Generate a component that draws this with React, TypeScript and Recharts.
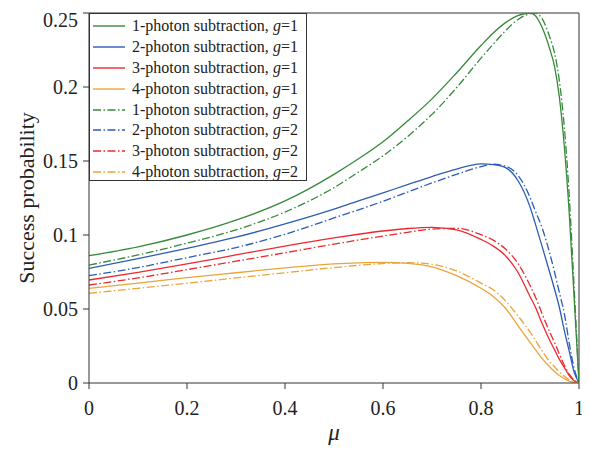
import React from 'react';
import { LineChart, Line, XAxis, YAxis, Legend, ReferenceLine } from 'recharts';

const muValues = [0, 0.1, 0.2, 0.3, 0.4, 0.5, 0.55, 0.6, 0.65, 0.7, 0.75, 0.8, 0.825, 0.85, 0.875, 0.9, 0.91, 0.925, 0.94, 0.95, 0.96, 0.97, 0.98, 0.99, 1];

const sub1g1 = [0.086, 0.092, 0.1, 0.11, 0.123, 0.141, 0.1515, 0.163, 0.177, 0.192, 0.2095, 0.228, 0.2365, 0.2435, 0.2482, 0.25, 0.2485, 0.24, 0.226, 0.214, 0.193, 0.16, 0.115, 0.058, 0];
const sub2g1 = [0.0775, 0.084, 0.091, 0.0985, 0.1075, 0.1175, 0.123, 0.1285, 0.134, 0.1395, 0.1445, 0.148, 0.1475, 0.1455, 0.137, 0.119, 0.1085, 0.092, 0.075, 0.0635, 0.051, 0.0355, 0.0215, 0.0075, 0];
const sub3g1 = [0.0696, 0.0748, 0.0805, 0.0865, 0.0925, 0.098, 0.1005, 0.1027, 0.1044, 0.1052, 0.1035, 0.097, 0.0925, 0.086, 0.075, 0.0585, 0.052, 0.04, 0.029, 0.0225, 0.016, 0.0105, 0.005, 0.0015, 0];
const sub4g1 = [0.064, 0.0675, 0.0712, 0.0745, 0.0778, 0.0805, 0.0812, 0.0815, 0.0808, 0.0785, 0.0725, 0.064, 0.0585, 0.0505, 0.039, 0.0275, 0.023, 0.0165, 0.011, 0.0078, 0.005, 0.0029, 0.0013, 0.0004, 0];
const sub1g2 = [0.0797, 0.0865, 0.0945, 0.1035, 0.1155, 0.132, 0.1425, 0.1535, 0.1665, 0.1815, 0.1995, 0.2195, 0.229, 0.238, 0.2455, 0.2495, 0.25, 0.246, 0.234, 0.223, 0.204, 0.173, 0.127, 0.065, 0];
const sub2g2 = [0.0725, 0.078, 0.0847, 0.0915, 0.1005, 0.1115, 0.117, 0.1228, 0.129, 0.1352, 0.141, 0.1462, 0.1478, 0.1465, 0.1405, 0.1255, 0.117, 0.1045, 0.088, 0.075, 0.061, 0.047, 0.027, 0.01, 0];
const sub3g2 = [0.0662, 0.071, 0.0766, 0.0823, 0.088, 0.0938, 0.0966, 0.0993, 0.1018, 0.104, 0.1045, 0.1002, 0.0965, 0.0905, 0.081, 0.066, 0.059, 0.0465, 0.0345, 0.0275, 0.0195, 0.012, 0.006, 0.002, 0];
const sub4g2 = [0.0606, 0.064, 0.0674, 0.071, 0.0745, 0.078, 0.0795, 0.0807, 0.0813, 0.0802, 0.0758, 0.0675, 0.063, 0.0555, 0.0455, 0.0345, 0.0295, 0.0215, 0.0145, 0.011, 0.0075, 0.0045, 0.0022, 0.0007, 0];

const xTicks = [0, 0.2, 0.4, 0.6, 0.8, 1];
const yTicks = [0, 0.05, 0.1, 0.15, 0.2, 0.25];

const seriesDefs = [
  { key: 's1g1', values: sub1g1, n: 1, g: 1, color: '#37893b', dashed: false },
  { key: 's2g1', values: sub2g1, n: 2, g: 1, color: '#2b5db5', dashed: false },
  { key: 's3g1', values: sub3g1, n: 3, g: 1, color: '#ea2a30', dashed: false },
  { key: 's4g1', values: sub4g1, n: 4, g: 1, color: '#eaa53a', dashed: false },
  { key: 's1g2', values: sub1g2, n: 1, g: 2, color: '#37893b', dashed: true },
  { key: 's2g2', values: sub2g2, n: 2, g: 2, color: '#2b5db5', dashed: true },
  { key: 's3g2', values: sub3g2, n: 3, g: 2, color: '#ea2a30', dashed: true },
  { key: 's4g2', values: sub4g2, n: 4, g: 2, color: '#eaa53a', dashed: true },
];

const data = muValues.map((mu, i) => {
  const row: any = { mu };
  seriesDefs.forEach((s) => { row[s.key] = s.values[i]; });
  return row;
});

const FONT = "'Liberation Serif', 'Times New Roman', Times, Tinos, 'Noto Serif', 'DejaVu Serif', FreeSerif, 'Noto Serif CJK SC', 'Noto Serif CJK JP', serif";
const DASH = '8 2.5 1.5 2.5';

const LegendBox = () => (
  <div style={{ width: 218, height: 168, border: '1px solid #333', background: '#fff', boxSizing: 'border-box', paddingTop: 2, fontFamily: FONT, fontSize: 16, color: '#222' }}>
    {seriesDefs.map((s) => (
      <div key={s.key} style={{ height: 20.8, display: 'flex', alignItems: 'center', whiteSpace: 'nowrap' }}>
        <svg width={42} height={10} style={{ flex: 'none' }}>
          <line x1={3} y1={5} x2={35} y2={5} stroke={s.color} strokeWidth={1.4} strokeDasharray={s.dashed ? DASH : undefined} />
        </svg>
        <span>{s.n}-photon subtraction, <span style={{ fontStyle: 'italic' }}>g</span>={s.g}</span>
      </div>
    ))}
  </div>
);

export default function App() {
  return (
    <div style={{ fontFamily: FONT }}>
      <LineChart width={582} height={442} data={data} margin={{ top: 5, right: 11, bottom: 0, left: 0 }} style={{ fontFamily: FONT }}>
        <XAxis
          dataKey="mu"
          type="number"
          domain={[0, 1]}
          ticks={xTicks}
          allowDataOverflow
          height={67}
          tickSize={6}
          tickMargin={12}
          stroke="#333"
          tick={{ fontFamily: FONT, fontSize: 20, fill: '#222' }}
          label={{
            content: () => (
              <text x={326} y={432} textAnchor="middle" fontFamily={FONT} fontSize={23} fontStyle="italic" fill="#222">μ</text>
            ),
          }}
        />
        <YAxis
          type="number"
          domain={[0, 0.25]}
          ticks={yTicks}
          allowDataOverflow
          width={81}
          tickSize={6}
          tickMargin={5}
          stroke="#333"
          tick={{ fontFamily: FONT, fontSize: 20, fill: '#222' }}
          label={{
            content: () => (
              <text x={0} y={0} transform="translate(26,190) rotate(-90)" textAnchor="middle" fontFamily={FONT} fontSize={22} fill="#222">Success probability</text>
            ),
          }}
        />
        <ReferenceLine y={0.25} stroke="#333" strokeWidth={1} />
        <ReferenceLine x={1} stroke="#333" strokeWidth={1} />
        {seriesDefs.map((s) => (
          <Line
            key={s.key}
            dataKey={s.key}
            type="monotone"
            stroke={s.color}
            strokeWidth={1.3}
            strokeDasharray={s.dashed ? DASH : undefined}
            dot={false}
            activeDot={false}
            isAnimationActive={false}
          />
        ))}
        <Legend
          layout="vertical"
          align="center"
          verticalAlign="middle"
          content={() => <LegendBox />}
          wrapperStyle={{ left: 81, top: 5, width: 218, height: 168 }}
        />
      </LineChart>
    </div>
  );
}
